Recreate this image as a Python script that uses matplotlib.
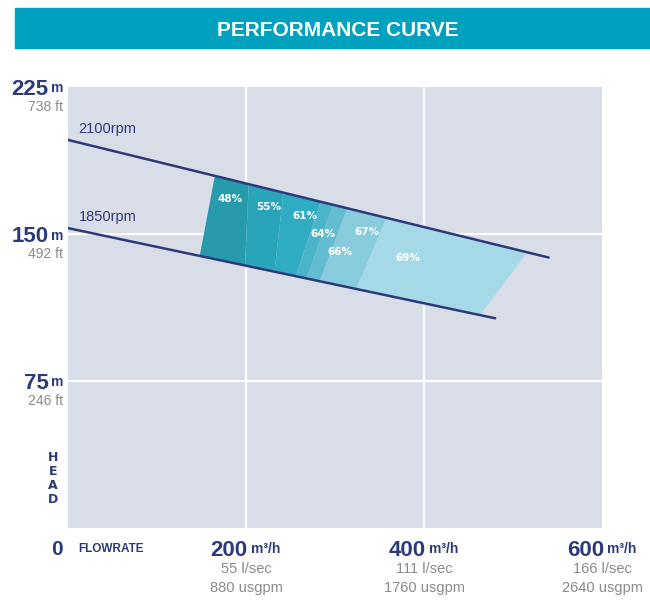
import matplotlib
matplotlib.use("Agg")
import matplotlib.pyplot as plt
from matplotlib.patches import Polygon, Rectangle

NAVY = "#2d3a7a"
GREY = "#8a8a8a"
PLOT_BG = "#d9dde8"
BAR = "#00a0bf"
NARROW = ["DejaVu Sans Condensed", "Liberation Sans Narrow", "Liberation Sans"]

# head ticks (m) and the matching feet
head_ticks = [225, 150, 75]
head_ft = ["738 ft", "492 ft", "246 ft"]

# flow ticks (m3/h) with the other units
flow_ticks = [200, 400, 600]
flow_ls = ["55 l/sec", "111 l/sec", "166 l/sec"]
flow_gpm = ["880 usgpm", "1760 usgpm", "2640 usgpm"]

# speed lines: (flow, head) end points
rpm_names = ["2100rpm", "1850rpm"]
rpm_flow = [[0, 540], [0, 480]]
rpm_head = [[198, 138], [153, 107]]

# efficiency zones: boundaries along the top (2100) and bottom (1850) line
eff_labels = ["48%", "55%", "61%", "64%", "66%", "67%", "69%"]
eff_top = [165, 203, 242, 284, 298, 314, 358, 516]
eff_bot = [148, 199, 232, 256, 268, 283, 324, 463]
eff_colors = ["#279aab", "#2aa4b9", "#30acc2", "#4ab5c9", "#62bdd0",
              "#88cbdc", "#a5d9e7"]
eff_lab_x = [182, 225, 266, 287, 306, 336, 382]
eff_lab_y = [168, 164, 159, 150, 141, 151, 138]


def head_at(line, q):
    f, h = rpm_flow[line], rpm_head[line]
    return h[0] + (h[1] - h[0]) * (q - f[0]) / (f[1] - f[0])


fig = plt.figure(figsize=(6.5, 6.02), dpi=100)
fig.patch.set_facecolor("white")

# title bar
fig.patches.append(Rectangle((15 / 650, 1 - 48 / 602), 1, 40 / 602,
                             transform=fig.transFigure, color=BAR, zorder=0))
fig.text(338 / 650, 1 - 28 / 602, "PERFORMANCE CURVE", color="white",
         fontsize=15, fontweight="bold", family=NARROW,
         ha="center", va="center_baseline")

ax = fig.add_axes([68 / 650, 74 / 602, 534 / 650, 441 / 602])
ax.set_facecolor(PLOT_BG)
ax.set_xlim(0, 600)
ax.set_ylim(0, 225)
for s in ax.spines.values():
    s.set_visible(False)
ax.set_xticks([])
ax.set_yticks([])
for q in flow_ticks[:-1]:
    ax.axvline(q, color="white", lw=1.6, zorder=1)
for h in head_ticks[1:]:
    ax.axhline(h, color="white", lw=1.6, zorder=1)

# efficiency band
for i, lab in enumerate(eff_labels):
    qt0, qt1 = eff_top[i], eff_top[i + 1]
    qb0, qb1 = eff_bot[i], eff_bot[i + 1]
    pts = [(qb0, head_at(1, qb0)), (qt0, head_at(0, qt0)),
           (qt1, head_at(0, qt1)), (qb1, head_at(1, qb1))]
    ax.add_patch(Polygon(pts, closed=True, facecolor=eff_colors[i],
                         edgecolor="none", zorder=2))
    ax.text(eff_lab_x[i], eff_lab_y[i], lab, color="white", fontsize=7.5,
            fontweight="bold", ha="center", va="center", zorder=4)

# speed lines
for i, name in enumerate(rpm_names):
    ax.plot(rpm_flow[i], rpm_head[i], color=NAVY, lw=1.8, zorder=3,
            solid_capstyle="round")
    ax.text(rpm_flow[i][0] + 12, rpm_head[i][0] + 2, name, color=NAVY,
            fontsize=10.5, ha="left", va="bottom", zorder=4, family=NARROW)

ytr = ax.get_yaxis_transform()
for h, ft in zip(head_ticks, head_ft):
    ax.text(-0.008, h, "m", transform=ytr, color=NAVY, fontsize=10,
            fontweight="bold", ha="right", va="center_baseline",
            family=NARROW)
    ax.text(-0.036, h, str(h), transform=ytr, color=NAVY, fontsize=16,
            fontweight="bold", ha="right", va="center_baseline",
            family=NARROW)
    ax.text(-0.01, h - 9.5, ft, transform=ytr, color=GREY, fontsize=10,
            ha="right", va="center_baseline", family=NARROW)

for k, ch in enumerate("HEAD"):
    ax.text(-0.028, 0.16 - k * 0.032, ch, transform=ax.transAxes,
            color=NAVY, fontsize=9, fontweight="bold", ha="center",
            va="center")

xtr = ax.get_xaxis_transform()
ax.text(-0.02, -0.045, "0", transform=ax.transAxes, color=NAVY,
        fontsize=15, fontweight="bold", ha="center", va="center_baseline",
        family=NARROW)
ax.text(0.02, -0.045, "FLOWRATE", transform=ax.transAxes, color=NAVY,
        fontsize=8.5, fontweight="bold", ha="left", va="center_baseline",
        family=NARROW)
for q, ls, gpm in zip(flow_ticks, flow_ls, flow_gpm):
    ax.text(q + 2, -0.045, str(q), transform=xtr, color=NAVY, fontsize=16,
            fontweight="bold", ha="right", va="center_baseline",
            family=NARROW)
    ax.text(q + 6, -0.045, "m³/h", transform=xtr, color=NAVY, fontsize=10,
            fontweight="bold", ha="left", va="center_baseline",
            family=NARROW)
    ax.text(q, -0.092, ls, transform=xtr, color=GREY, fontsize=10.5,
            ha="center", va="center", family=NARROW)
    ax.text(q, -0.135, gpm, transform=xtr, color=GREY, fontsize=10.5,
            ha="center", va="center", family=NARROW)

fig.savefig("out.png", dpi=100)
